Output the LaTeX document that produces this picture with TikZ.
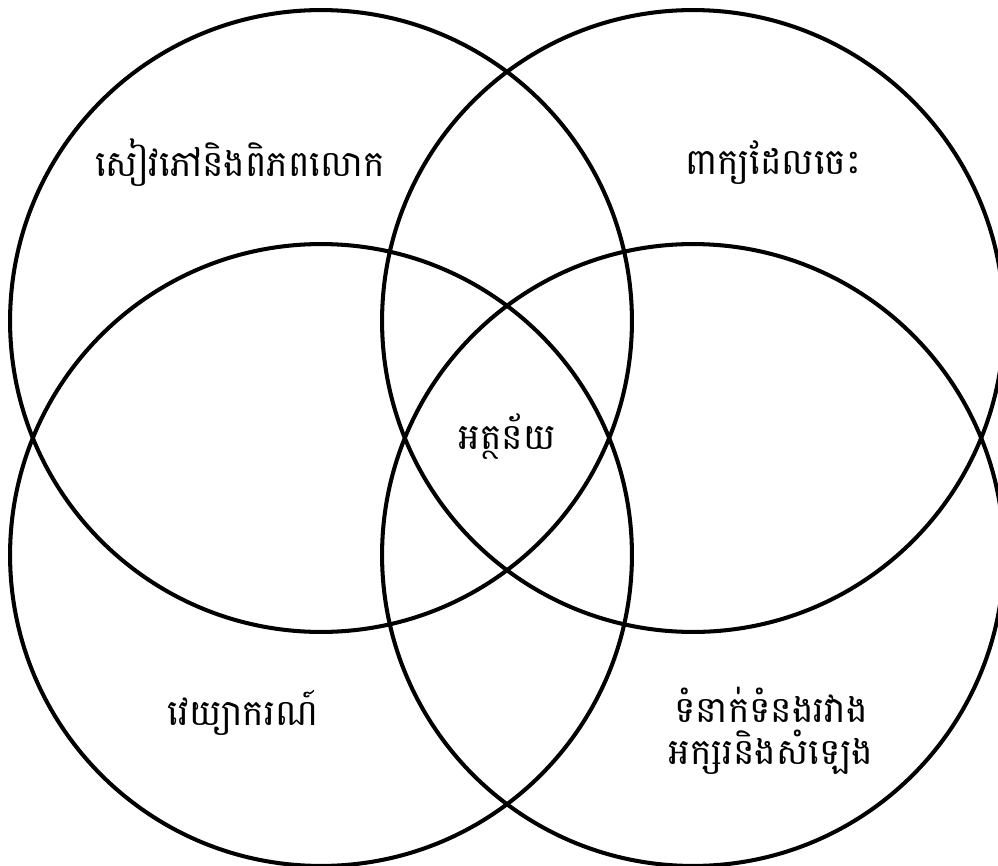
\documentclass[tikz,border=0pt]{standalone}
\usepackage{fontspec}
\newfontfamily\khmerfont[Script=Khmer]{Battambang}
\begin{document}
\begin{tikzpicture}[x=0.02cm,y=-0.02cm,
  ring/.style={draw=black,line width=2.3pt,circle,minimum size=12.44cm,inner sep=0pt},
  lbl/.style={font=\khmerfont\fontsize{20.5}{24}\selectfont,align=center,inner sep=0pt}]
\useasboundingbox (0,0) rectangle (998,866);
\node[ring] (tl) at (321,321) {};
\node[ring] (tr) at (693,321) {};
\node[ring] (bl) at (321,555) {};
\node[ring] (br) at (693,555) {};
\node[lbl] (t1) at (240,163) {សៀវភៅនិងពិភពលោក};
\node[lbl] (t2) at (773,163) {ពាក្យដែលចេះ};
\node[lbl] (t3) at (507,437) {អត្ថន័យ};
\node[lbl] (t4) at (243,713) {វេយ្យាករណ៍};
\node[lbl] (t5) at (771,731) {ទំនាក់ទំនងរវាង\\អក្សរនិងសំឡេង};
\end{tikzpicture}
\end{document}
